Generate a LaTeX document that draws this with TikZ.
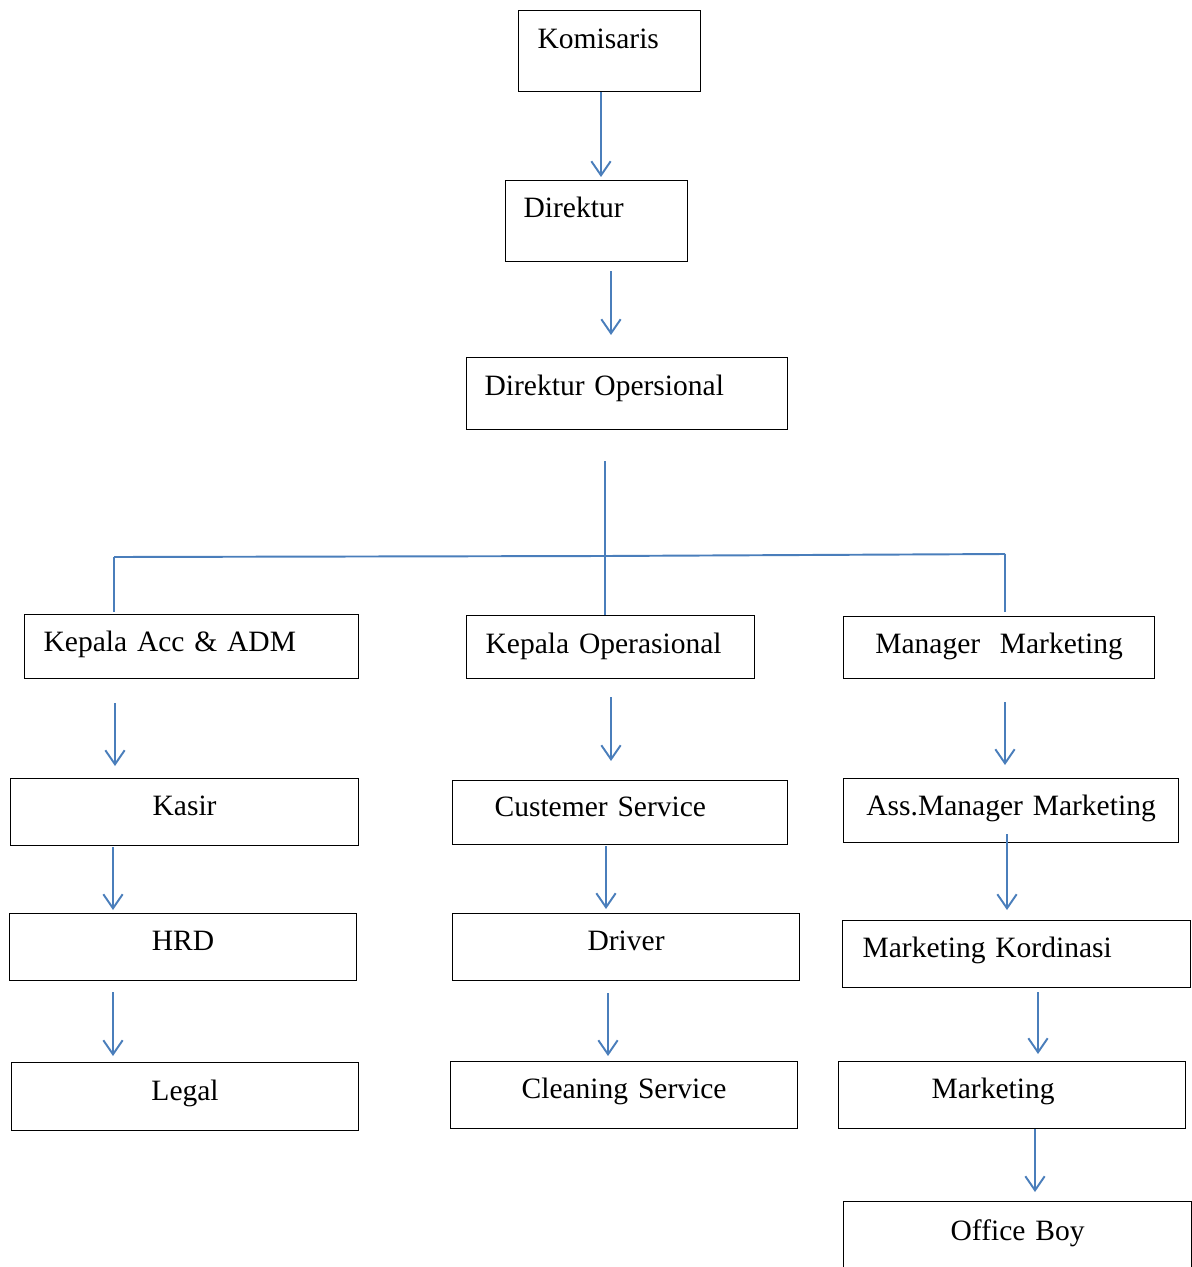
\documentclass[tikz,border=0pt]{standalone}
\usepackage{fontspec}
\setmainfont{Liberation Serif}
\usetikzlibrary{arrows.meta}
\definecolor{garisbiru}{RGB}{74,126,187}

\begin{document}
\begin{tikzpicture}[
    x=0.02cm, y=-0.02cm,
    box/.style = {draw, line width=0.7pt, anchor=north west, inner ysep=0pt,
                  font=\fontsize{16.8}{20}\selectfont},
    lft/.style = {box, align=left},
    ctr/.style = {box, align=center, inner xsep=0pt},
    garis/.style = {draw=garisbiru, line width=1.1pt},
    panah/.style = {garis, -{Straight Barb[length=8pt, width=11pt]}}
]
    \useasboundingbox (0,0) rectangle (1192,1267);

    % Kotak jabatan (Nodes)
    \node[lft, inner xsep=0.38cm, text width=2.88cm, text height=0.76cm, text depth=0.86cm] (kom) at (518,10) {Komisaris};
    \node[lft, inner xsep=0.36cm, text width=2.92cm, text height=0.74cm, text depth=0.88cm] (dir) at (505,180) {Direktur};
    \node[lft, inner xsep=0.36cm, text width=5.70cm, text height=0.76cm, text depth=0.68cm] (dirop) at (466,357) {Direktur Opersional};

    \node[lft, inner xsep=0.38cm, text width=5.92cm, text height=0.74cm, text depth=0.54cm] (kacc) at (24,614) {Kepala Acc \& ADM};
    \node[lft, inner xsep=0.38cm, text width=5.00cm, text height=0.76cm, text depth=0.50cm] (kop) at (466,615) {Kepala Operasional};
    \node[ctr, text width=6.22cm, text height=0.74cm, text depth=0.50cm] (mgr) at (843,616) {Manager\ \ Marketing};

    \node[ctr, text width=6.96cm, text height=0.74cm, text depth=0.60cm] (kasir) at (10,778) {Kasir};
    \node[ctr, text width=6.94cm, text height=0.74cm, text depth=0.60cm] (hrd) at (9,913) {HRD};
    \node[ctr, text width=6.94cm, text height=0.76cm, text depth=0.60cm] (legal) at (11,1062) {Legal};

    \node[lft, inner xsep=0.84cm, text width=5.02cm, text height=0.72cm, text depth=0.56cm] (cs) at (452,780) {Custemer Service};
    \node[ctr, text width=6.94cm, text height=0.74cm, text depth=0.60cm] (drv) at (452,913) {Driver};
    \node[ctr, text width=6.94cm, text height=0.74cm, text depth=0.60cm] (cln) at (450,1061) {Cleaning Service};

    \node[ctr, text width=6.70cm, text height=0.74cm, text depth=0.54cm] (ass) at (843,778) {Ass.Manager Marketing};
    \node[lft, inner xsep=0.40cm, text width=6.16cm, text height=0.74cm, text depth=0.60cm] (mk) at (842,920) {Marketing Kordinasi};
    \node[lft, inner xsep=1.86cm, text width=3.22cm, text height=0.74cm, text depth=0.60cm] (mkt) at (838,1061) {Marketing};
    \node[ctr, text width=6.96cm, text height=0.78cm, text depth=0.82cm] (ob) at (843,1201) {Office Boy};

    % Titik cabang
    \coordinate (jl) at (114,557);
    \coordinate (jm) at (605,556);
    \coordinate (jr) at (1005,554);

    % Garis dan panah (Edges)
    \draw[panah, shorten >=0.06cm] (kom.south -| 601,0) -- (dir.north -| 601,0);
    \draw[panah, shorten <=0.18cm, shorten >=0.44cm] (dir.south -| 611,0) -- (dirop.north -| 611,0);

    \draw[garis, shorten <=0.62cm] (dirop.south -| jm) -- (jm);
    \draw[garis] (jl) -- (jm) -- (jr);
    \draw[garis, shorten >=0.04cm] (jl) -- (kacc.north -| jl);
    \draw[garis] (jm) -- (kop.north -| jm);
    \draw[garis, shorten >=0.08cm] (jr) -- (mgr.north -| jr);

    \draw[panah, shorten <=0.48cm, shorten >=0.24cm] (kacc.south -| 115,0) -- (kasir.north -| 115,0);
    \draw[panah, shorten <=0.02cm, shorten >=0.06cm] (kasir.south -| 113,0) -- (hrd.north -| 113,0);
    \draw[panah, shorten <=0.22cm, shorten >=0.12cm] (hrd.south -| 113,0) -- (legal.north -| 113,0);

    \draw[panah, shorten <=0.36cm, shorten >=0.38cm] (kop.south -| 611,0) -- (cs.north -| 611,0);
    \draw[panah, shorten <=0.02cm, shorten >=0.08cm] (cs.south -| 606,0) -- (drv.north -| 606,0);
    \draw[panah, shorten <=0.24cm, shorten >=0.10cm] (drv.south -| 608,0) -- (cln.north -| 608,0);

    \draw[panah, shorten <=0.46cm, shorten >=0.26cm] (mgr.south -| 1005,0) -- (ass.north -| 1005,0);
    \draw[panah, shorten <=-0.18cm, shorten >=0.20cm] (ass.south -| 1007,0) -- (mk.north -| 1007,0);
    \draw[panah, shorten <=0.08cm, shorten >=0.14cm] (mk.south -| 1038,0) -- (mkt.north -| 1038,0);
    \draw[panah, shorten >=0.18cm] (mkt.south -| 1035,0) -- (ob.north -| 1035,0);

\end{tikzpicture}
\end{document}
